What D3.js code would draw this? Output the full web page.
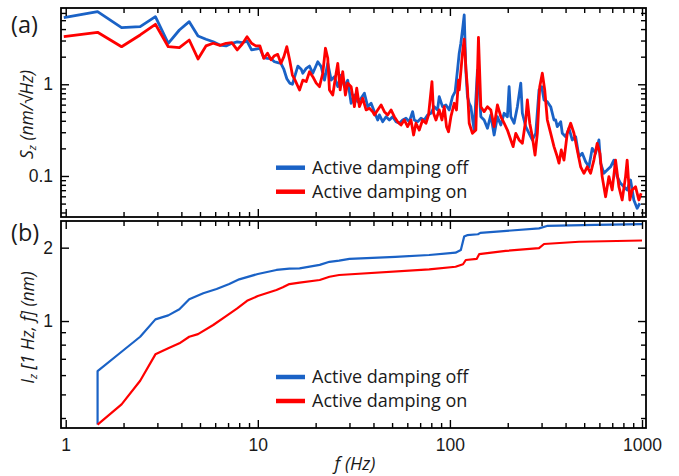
<!DOCTYPE html>
<html>
<head>
<meta charset="utf-8">
<script src="https://cdn.jsdelivr.net/npm/d3@7"></script>
<style>
  html, body { margin: 0; padding: 0; background: #fff; }
  svg { display: block; font-family: "Open Sans", "Noto Sans", sans-serif; }
</style>
</head>
<body>
<svg id="chart" width="679" height="476"></svg>
<script>
// ---------- data ----------
// (a) amplitude spectral density S_z (nm/√Hz), damping off
const psdFreqOff = [0.977, 1.465, 1.953, 2.441, 2.930, 3.418, 3.906, 4.395, 4.883, 5.371,
  5.859, 6.348, 6.836, 7.324, 7.813, 8.301, 8.789, 9.277, 9.766, 10.254,
  10.742, 11.23, 11.719, 12.207, 12.695, 13.184, 13.672, 14.16, 14.648, 15.137,
  15.625, 16.16, 16.83, 17.15, 17.86, 18.58, 19.33, 20.52, 21.37, 22.23,
  23.13, 24.09, 25.06, 26.07, 27.15, 28.24, 29.38, 30.6, 31.84, 33.11,
  34.49, 35.88, 37.33, 38.88, 40.45, 42.08, 42.94, 44.67, 46.52, 48.39,
  50.33, 52.42, 54.53, 56.73, 59.08, 61.46, 63.93, 65.24, 67.87, 70.69,
  73.54, 76.5, 79.68, 82.88, 86.2, 87.98, 91.5, 95.35, 99.2, 103.2,
  106.5, 109.5, 111.8, 114.0, 116.3, 118.7, 121.1, 123.4, 126.0, 128.5,
  133.7, 139.1, 142.0, 144.9, 150.7, 156.8, 163.3, 169.9, 176.7, 184.1,
  191.5, 199.2, 203.3, 207.5, 215.8, 224.5, 233.8, 238.3, 248.2, 258.2,
  268.6, 279.8, 291.0, 300.6, 309.0, 321.4, 334.7, 348.2, 355.3, 362.2,
  377.3, 384.6, 400.5, 416.6, 433.4, 451.4, 469.6, 488.5, 508.8, 529.2,
  550.6, 573.3, 596.4, 608.7, 633.3, 658.8, 686.2, 713.8, 742.4, 773.3,
  804.6, 836.9, 871.6, 906.6, 943.1, 974.2];
const psdOff = [5.32, 6.19, 4.14, 4.25, 5.46, 2.80, 3.91, 4.82, 3.36, 3.10,
  2.91, 2.68, 2.62, 2.80, 2.90, 2.84, 2.95, 2.37, 2.42, 2.47,
  1.95, 1.92, 1.90, 1.76, 1.72, 1.69, 1.45, 1.15, 1.03, 1.00,
  1.25, 1.58, 1.46, 1.32, 1.49, 1.58, 1.32, 1.76, 1.56, 1.11,
  1.69, 1.11, 1.21, 0.942, 1.26, 0.942, 1.11, 0.621, 0.764, 0.646,
  0.704, 0.798, 0.57, 0.621, 0.503, 0.408, 0.463, 0.391, 0.443, 0.408,
  0.443, 0.391, 0.376, 0.408, 0.426, 0.391, 0.503, 0.408, 0.391, 0.426,
  0.408, 0.463, 0.483, 0.57, 0.525, 0.732, 0.57, 0.595, 0.525, 0.732,
  0.83, 1.43, 2.18, 2.80, 3.91, 5.70, 1.40, 0.732, 0.62, 0.57,
  0.317, 1.43, 0.867, 0.443, 0.408, 0.331, 0.463, 0.28, 0.443, 0.36,
  0.483, 0.443, 0.942, 0.443, 0.376, 0.57, 1.03, 0.483, 0.345, 0.292,
  0.247, 0.292, 0.867, 0.942, 0.674, 0.646, 0.57, 0.408, 0.408, 0.345,
  0.391, 0.292, 0.268, 0.331, 0.247, 0.268, 0.162, 0.177, 0.143, 0.126,
  0.2, 0.177, 0.247, 0.138, 0.107, 0.116, 0.126, 0.149, 0.0984, 0.0832,
  0.0764, 0.0704, 0.0904, 0.0547, 0.0444, 0.0504];

// (a) amplitude spectral density S_z (nm/√Hz), damping on
const psdFreqOn = [0.977, 1.465, 1.953, 2.441, 2.930, 3.418, 3.906, 4.395, 4.883, 5.371,
  5.859, 6.348, 6.836, 7.324, 7.813, 8.301, 8.789, 9.277, 9.766, 10.254,
  10.742, 11.23, 11.719, 12.207, 12.695, 13.184, 13.672, 14.16, 14.648, 15.137,
  15.625, 16.49, 17.15, 17.86, 18.58, 19.33, 20.14, 20.94, 21.79, 22.5,
  23.13, 23.6, 24.55, 25.57, 26.07, 26.83, 27.67, 28.58, 29.38, 30.6,
  31.84, 32.73, 33.79, 35.16, 36.62, 38.1, 39.63, 40.45, 42.08, 43.82,
  45.58, 47.42, 49.38, 51.36, 53.43, 55.66, 57.89, 60.22, 62.72, 64.7,
  66.59, 69.26, 72.06, 75.05, 77.42, 80.64, 82.2, 84.6, 87.98, 90.87,
  93.43, 96.0, 98.33, 101.2, 105.3, 108.2, 110.8, 111.8, 116.3, 118.7,
  121.1, 123.4, 126.0, 131.0, 136.5, 140.8, 144.9, 150.7, 156.8, 163.3,
  169.9, 176.7, 184.1, 191.5, 199.2, 207.5, 213.3, 220.3, 229.1, 238.3,
  248.2, 253.0, 260.4, 268.6, 277.4, 285.2, 293.5, 302.7, 311.6, 321.4,
  334.7, 348.2, 362.2, 369.7, 380.0, 392.5, 408.2, 425.2, 442.3, 460.1,
  479.2, 498.6, 518.6, 540.1, 561.8, 584.5, 603.6, 620.4, 646.3, 672.3,
  699.5, 728.4, 757.8, 788.3, 821.0, 836.9, 864.3, 888.4, 925.2, 962.6,
  989.2];
const psdOn = [3.31, 3.69, 2.57, 3.45, 4.51, 2.57, 2.51, 3.04, 1.89, 2.62,
  2.80, 2.66, 2.80, 2.84, 2.37, 2.75, 3.30, 2.80, 2.62, 2.62,
  1.92, 2.18, 1.85, 2.05, 2.12, 1.69, 2.00, 2.57, 1.84, 1.26,
  1.11, 0.867, 1.11, 1.07, 1.37, 1.21, 1.03, 0.942, 1.32, 2.47,
  1.92, 0.867, 0.764, 1.32, 1.69, 0.867, 1.37, 0.764, 1.03, 0.942,
  0.57, 0.905, 0.57, 0.704, 0.525, 0.547, 0.503, 0.463, 0.525, 0.595,
  0.503, 0.463, 0.525, 0.443, 0.391, 0.36, 0.408, 0.345, 0.408, 0.28,
  0.376, 0.317, 0.408, 0.376, 0.463, 1.07, 0.483, 0.408, 0.525, 0.408,
  0.57, 0.345, 0.304, 0.443, 0.621, 0.525, 1.11, 0.867, 2.2, 3.1,
  1.5, 0.9, 0.376, 0.292, 0.317, 3.25, 0.57, 0.503, 0.57, 0.525,
  0.345, 0.595, 0.443, 0.376, 0.317, 0.247, 0.209, 0.292, 0.247, 0.227,
  0.408, 0.674, 0.376, 0.268, 0.169, 0.292, 0.942, 1.32, 0.867, 0.408,
  0.292, 0.209, 0.162, 0.138, 0.192, 0.149, 0.292, 0.376, 0.292, 0.192,
  0.126, 0.107, 0.126, 0.107, 0.149, 0.227, 0.177, 0.0984, 0.0594, 0.0984,
  0.0704, 0.149, 0.0764, 0.0547, 0.0984, 0.149, 0.0547, 0.0704, 0.0764, 0.0547,
  0.0648];

// (b) cumulative displacement I_z [1 Hz, f] (nm)
const cumFreqOff = [1.465, 1.465, 1.953, 2.441, 2.930, 3.418, 3.906, 4.395, 5.2, 6.1,
  7.1, 8.0, 10.0, 12.5, 14.6, 16.5, 21.0, 23.6, 26.5, 30.0,
  52.0, 78.0, 107.0, 114.0, 118.6, 123.0, 140.0, 144.0, 291.0, 320.0,
  570.0, 1000.0];
const cumOff = [0.376, 0.623, 0.748, 0.862, 1.016, 1.055, 1.117, 1.228, 1.30, 1.353,
  1.418, 1.483, 1.56, 1.62, 1.64, 1.645, 1.70, 1.75, 1.77, 1.80,
  1.835, 1.866, 1.907, 1.955, 2.22, 2.25, 2.27, 2.30, 2.40, 2.455,
  2.48, 2.50];
const cumFreqOn = [1.465, 1.953, 2.441, 2.930, 3.418, 3.906, 4.395, 4.883, 5.859, 6.836,
  7.813, 8.789, 10.0, 12.5, 13.5, 14.6, 16.5, 21.0, 23.6, 26.5,
  78.0, 107.0, 117.0, 121.0, 138.0, 142.0, 195.0, 291.0, 309.0, 470.0,
  1000.0];
const cumOn = [0.376, 0.455, 0.569, 0.73, 0.773, 0.81, 0.862, 0.884, 0.963, 1.048,
  1.127, 1.21, 1.266, 1.34, 1.375, 1.418, 1.437, 1.474, 1.52, 1.545,
  1.63, 1.67, 1.71, 1.78, 1.80, 1.88, 1.94, 1.99, 2.07, 2.115,
  2.14];

const xMajor = [1, 10, 100, 1000];
const xMinor = [2,3,4,5,6,7,8,9, 20,30,40,50,60,70,80,90, 200,300,400,500,600,700,800,900];
const yMajorA = [0.1, 1];
const yMinorA = [0.04,0.05,0.06,0.07,0.08,0.09, 0.2,0.3,0.4,0.5,0.6,0.7,0.8,0.9, 2,3,4,5,6];
const yMajorB = [1, 2];
const yMinorB = [0.4,0.5,0.6,0.7,0.8,0.9];
const seriesNames = ["Active damping off", "Active damping on"];
const seriesColors = ["#1a62c6", "#ff0000"];

// ---------- layout ----------
const svg = d3.select("#chart");
const L = 61, R = 646;
const A = { top: 8, bottom: 217 };
const B = { top: 221, bottom: 428 };

const x = d3.scaleLog().domain([0.945, 1049]).range([L, R]);
const yA = d3.scaleLog().domain([0.0357, 6.79]).range([A.bottom, A.top]);
const yB = d3.scaleLog().domain([0.364, 2.573]).range([B.bottom, B.top]);

svg.append("clipPath").attr("id", "clipA")
  .append("rect").attr("x", L).attr("y", A.top).attr("width", R - L).attr("height", A.bottom - A.top);
svg.append("clipPath").attr("id", "clipB")
  .append("rect").attr("x", L).attr("y", B.top).attr("width", R - L).attr("height", B.bottom - B.top);

function lineFor(yScale) {
  return d3.line().x(d => x(d[0])).y(d => yScale(d[1]));
}

// panel (a) curves
const gA = svg.append("g").attr("clip-path", "url(#clipA)");
[[psdFreqOff, psdOff, 0], [psdFreqOn, psdOn, 1]].forEach(([f, v, i]) => {
  gA.append("path")
    .datum(d3.zip(f, v))
    .attr("fill", "none")
    .attr("stroke", seriesColors[i])
    .attr("stroke-width", 2.8)
    .attr("stroke-linejoin", "round")
    .attr("d", lineFor(yA));
});

// panel (b) curves
const gB = svg.append("g").attr("clip-path", "url(#clipB)");
[[cumFreqOff, cumOff, 0], [cumFreqOn, cumOn, 1]].forEach(([f, v, i]) => {
  gB.append("path")
    .datum(d3.zip(f, v))
    .attr("fill", "none")
    .attr("stroke", seriesColors[i])
    .attr("stroke-width", 2.2)
    .attr("stroke-linejoin", "round")
    .attr("d", lineFor(yB));
});

// ---------- axes (inward ticks on all four sides) ----------
const majorLen = 8, minorLen = 5;
function styleAxis(g) {
  g.select(".domain").remove();
  g.selectAll(".tick line").attr("stroke", "#000").attr("stroke-width", 1.4);
  g.selectAll("text").attr("fill", "#1a1a1a").attr("font-size", 17.5);
}
function xAxes(panel, withLabels) {
  const bot = svg.append("g").attr("transform", `translate(0,${panel.bottom})`)
    .call(d3.axisBottom(x).tickValues(xMajor).tickSize(-majorLen).tickPadding(11)
      .tickFormat(withLabels ? d3.format("d") : () => ""));
  styleAxis(bot);
  const botMinor = svg.append("g").attr("transform", `translate(0,${panel.bottom})`)
    .call(d3.axisBottom(x).tickValues(xMinor).tickSize(-minorLen).tickFormat(() => ""));
  styleAxis(botMinor);
  const top = svg.append("g").attr("transform", `translate(0,${panel.top})`)
    .call(d3.axisTop(x).tickValues(xMajor).tickSize(-majorLen).tickFormat(() => ""));
  styleAxis(top);
  const topMinor = svg.append("g").attr("transform", `translate(0,${panel.top})`)
    .call(d3.axisTop(x).tickValues(xMinor).tickSize(-minorLen).tickFormat(() => ""));
  styleAxis(topMinor);
}
function yAxes(yScale, major, minor, fmt) {
  const l = svg.append("g").attr("transform", `translate(${L},0)`)
    .call(d3.axisLeft(yScale).tickValues(major).tickSize(-majorLen).tickPadding(8).tickFormat(fmt));
  styleAxis(l);
  const lm = svg.append("g").attr("transform", `translate(${L},0)`)
    .call(d3.axisLeft(yScale).tickValues(minor).tickSize(-minorLen).tickFormat(() => ""));
  styleAxis(lm);
  const r = svg.append("g").attr("transform", `translate(${R},0)`)
    .call(d3.axisRight(yScale).tickValues(major).tickSize(-majorLen).tickFormat(() => ""));
  styleAxis(r);
  const rm = svg.append("g").attr("transform", `translate(${R},0)`)
    .call(d3.axisRight(yScale).tickValues(minor).tickSize(-minorLen).tickFormat(() => ""));
  styleAxis(rm);
}
xAxes(A, false);
xAxes(B, true);
yAxes(yA, yMajorA, yMinorA, d => (d < 1 ? "0.1" : "1"));
yAxes(yB, yMajorB, yMinorB, d3.format("d"));

// panel frames
[A, B].forEach(p => {
  svg.append("rect")
    .attr("x", L).attr("y", p.top)
    .attr("width", R - L).attr("height", p.bottom - p.top)
    .attr("fill", "none").attr("stroke", "#000").attr("stroke-width", 1.8);
});

// ---------- labels ----------
svg.append("text").attr("x", 11).attr("y", 33).attr("font-size", 23.5).attr("fill", "#1a1a1a").text("(a)");
svg.append("text").attr("x", 11).attr("y", 241).attr("font-size", 23.5).attr("fill", "#1a1a1a").text("(b)");

const ylabA = svg.append("text")
  .attr("transform", `translate(33,${(A.top + A.bottom) / 2 + 2}) rotate(-90)`)
  .attr("text-anchor", "middle").attr("font-size", 17.5).attr("font-style", "italic").attr("fill", "#1a1a1a");
ylabA.append("tspan").text("S");
ylabA.append("tspan").attr("font-size", 11.5).attr("dy", 3).text("z");
ylabA.append("tspan").attr("dy", -3).text(" (nm/√Hz)");

const ylabB = svg.append("text")
  .attr("transform", `translate(34,${(B.top + B.bottom) / 2 + 3}) rotate(-90)`)
  .attr("text-anchor", "middle").attr("font-size", 17.5).attr("font-style", "italic").attr("fill", "#1a1a1a");
ylabB.append("tspan").text("I");
ylabB.append("tspan").attr("font-size", 11.5).attr("dy", 3).text("z");
ylabB.append("tspan").attr("dy", -3).text(" [1 Hz, f] (nm)");

svg.append("text").attr("x", 355).attr("y", 470).attr("text-anchor", "middle")
  .attr("font-size", 18).attr("font-style", "italic").attr("fill", "#1a1a1a").text("f (Hz)");

// ---------- legends ----------
function legend(y0) {
  seriesNames.forEach((name, i) => {
    const yy = y0 + i * 24;
    svg.append("line").attr("x1", 276).attr("x2", 305).attr("y1", yy).attr("y2", yy)
      .attr("stroke", seriesColors[i]).attr("stroke-width", 4.5);
    svg.append("text").attr("x", 312).attr("y", yy).attr("dy", "0.35em")
      .attr("font-size", 18).attr("fill", "#1a1a1a").text(name);
  });
}
legend(167.7);
legend(377);
</script>
</body>
</html>
